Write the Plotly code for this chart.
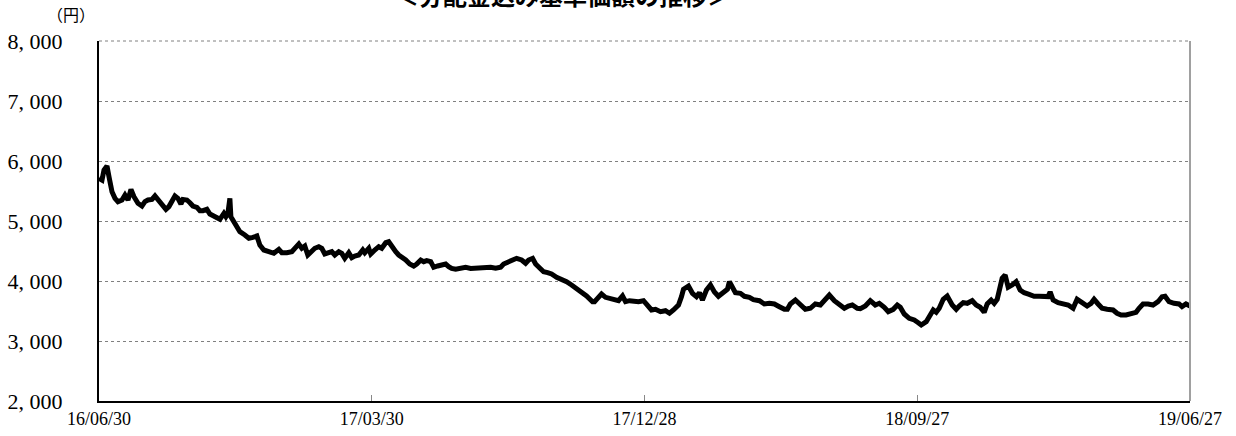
import pandas as pd
import plotly.graph_objects as go

# ---- data ----
start_date = "2016-06-30"
day_offsets = [
    0, 3, 5, 8, 10, 13, 16, 19, 23, 26, 29, 32, 35, 39, 43, 46, 49, 53, 56, 59,
    63, 67, 70, 73, 76, 79, 82, 84, 88, 91, 94, 98, 101, 104, 108, 111, 115, 118, 121, 125,
    127, 129, 131, 132, 135, 138, 141, 146, 150, 154, 158, 161, 165, 170, 175, 180, 183, 188, 193, 196,
    200, 203, 206, 209, 212, 216, 220, 223, 226, 230, 233, 236, 240, 243, 246, 250, 253, 256, 260, 264,
    266, 270, 272, 276, 280, 283, 287, 290, 293, 297, 300, 303, 307, 311, 315, 318, 322, 325, 328, 332,
    335, 339, 343, 347, 350, 353, 357, 362, 367, 372, 377, 382, 387, 392, 397, 402, 405, 410, 415, 418,
    423, 427, 430, 434, 437, 442, 445, 449, 453, 458, 463, 468, 473, 478, 483, 488, 494, 496, 499, 503,
    507, 511, 515, 520, 524, 527, 531, 535, 540, 545, 549, 553, 557, 562, 567, 571, 575, 580, 583, 585,
    590, 594, 598, 601, 604, 608, 612, 616, 620, 624, 629, 631, 634, 637, 642, 646, 651, 655, 661, 666,
    671, 676, 681, 686, 689, 692, 697, 702, 707, 712, 717, 722, 727, 731, 736, 741, 746, 750, 754, 759,
    762, 767, 772, 777, 781, 786, 790, 795, 799, 802, 806, 811, 816, 820, 823, 828, 832, 835, 838, 841,
    845, 849, 854, 858, 861, 865, 869, 874, 878, 882, 886, 889, 893, 896, 899, 902, 904, 907, 910, 914,
    918, 922, 926, 931, 936, 941, 946, 950, 952, 955, 960, 965, 970, 975, 979, 984, 989, 993, 996, 1000,
    1004, 1009, 1015, 1019, 1023, 1028, 1033, 1038, 1041, 1045, 1050, 1055, 1060, 1064, 1067, 1071, 1076, 1081, 1084, 1088,
    1092,
]
nav_values = [
    5712, 5683, 5850, 5917, 5738, 5488, 5378, 5322, 5350, 5433, 5350, 5528, 5405, 5295, 5250, 5322, 5350, 5360, 5417, 5350,
    5267, 5195, 5240, 5322, 5417, 5378, 5283, 5360, 5350, 5305, 5250, 5228, 5172, 5172, 5195, 5117, 5072, 5045, 5028, 5128,
    5072, 5128, 5378, 5072, 4988, 4895, 4822, 4767, 4712, 4728, 4750, 4600, 4517, 4490, 4462, 4528, 4472, 4470, 4488, 4545,
    4617, 4545, 4583, 4433, 4488, 4545, 4572, 4545, 4450, 4460, 4488, 4433, 4488, 4460, 4378, 4470, 4390, 4417, 4433, 4517,
    4470, 4545, 4450, 4517, 4572, 4545, 4638, 4655, 4572, 4488, 4433, 4405, 4350, 4283, 4250, 4283, 4350, 4322, 4340, 4322,
    4228, 4250, 4260, 4283, 4240, 4210, 4195, 4210, 4228, 4210, 4220, 4220, 4238, 4230, 4212, 4230, 4283, 4322, 4362, 4378,
    4350, 4295, 4350, 4378, 4283, 4195, 4155, 4140, 4117, 4062, 4028, 3988, 3933, 3878, 3822, 3750, 3655, 3655, 3710, 3783,
    3728, 3710, 3710, 3672, 3750, 3655, 3672, 3655, 3655, 3672, 3600, 3517, 3528, 3488, 3505, 3462, 3517, 3600, 3738, 3862,
    3917, 3795, 3738, 3805, 3683, 3850, 3933, 3817, 3745, 3805, 3862, 3988, 3905, 3805, 3795, 3745, 3728, 3690, 3672, 3617,
    3628, 3617, 3572, 3528, 3528, 3617, 3683, 3600, 3528, 3545, 3617, 3600, 3683, 3767, 3672, 3600, 3545, 3583, 3600, 3545,
    3540, 3583, 3672, 3600, 3628, 3562, 3490, 3528, 3600, 3562, 3450, 3378, 3350, 3305, 3267, 3322, 3433, 3517, 3478, 3545,
    3695, 3750, 3600, 3528, 3583, 3640, 3628, 3672, 3600, 3562, 3478, 3617, 3683, 3628, 3695, 3878, 4045, 4100, 3895, 3933,
    3988, 3850, 3805, 3778, 3745, 3745, 3738, 3740, 3817, 3683, 3640, 3617, 3600, 3545, 3695, 3640, 3583, 3628, 3695, 3617,
    3545, 3528, 3517, 3462, 3433, 3433, 3450, 3478, 3545, 3617, 3617, 3600, 3655, 3738, 3745, 3655, 3628, 3617, 3572, 3617,
    3583,
]
x_tick_dates = ["2016-06-30", "2017-03-30", "2017-12-28", "2018-09-27", "2019-06-27"]
x_tick_labels = ["16/06/30", "17/03/30", "17/12/28", "18/09/27", "19/06/27"]
y_tick_values = [2000, 3000, 4000, 5000, 6000, 7000, 8000]
y_tick_labels = ["2, 000", "3, 000", "4, 000", "5, 000", "6, 000", "7, 000", "8, 000"]
title_text = "＜分配金込み基準価額の推移＞"
unit_text = "（円）"

dates = pd.to_datetime(start_date) + pd.to_timedelta(day_offsets, unit="D")

SERIF = "Liberation Serif, Times New Roman, serif"
CJK = "Noto Sans CJK JP, sans-serif"

fig = go.Figure()
fig.add_trace(go.Scatter(
    x=dates, y=nav_values, mode="lines",
    line=dict(color="black", width=5, shape="linear"),
    hoverinfo="x+y", showlegend=False,
))

fig.update_layout(
    width=1236, height=436,
    margin=dict(l=99, r=46, t=41, b=35, autoexpand=False),
    paper_bgcolor="white", plot_bgcolor="white",
    xaxis=dict(
        type="date", automargin=False,
        range=[x_tick_dates[0], x_tick_dates[-1]],
        tickmode="array", tickvals=x_tick_dates, ticktext=x_tick_labels,
        ticks="inside", ticklen=6, tickwidth=1, tickcolor="#888888",
        showline=True, linecolor="black", linewidth=2,
        showgrid=False, zeroline=False,
        tickfont=dict(family=SERIF, size=18, color="black"),
    ),
    yaxis=dict(
        automargin=False,
        range=[2000, 8000],
        tickmode="array", tickvals=y_tick_values, ticktext=y_tick_labels,
        ticks="", showline=True, linecolor="black", linewidth=2,
        showgrid=True, gridcolor="#808080", gridwidth=1, griddash="dot",
        zeroline=False,
        ticklabelstandoff=30,
        tickfont=dict(family=SERIF, size=22, color="black"),
    ),
    shapes=[
        dict(type="line", xref="paper", yref="paper", x0=1, x1=1, y0=0, y1=1,
             line=dict(color="#a0a0a0", width=2)),
        dict(type="line", xref="paper", yref="paper", x0=0, x1=1, y0=1, y1=1,
             line=dict(color="#808080", width=1, dash="dot")),
    ],
    annotations=[
        dict(text="<b>" + title_text + "</b>", xref="paper", yref="paper", x=(563 - 99) / 1091,
             y=1 + 27 / 360, xanchor="center", yanchor="bottom", showarrow=False,
             font=dict(family=CJK, size=24, color="black")),
        dict(text=unit_text, xref="paper", yref="paper", x=-0.002, y=1 + 13 / 360,
             xanchor="right", yanchor="bottom", showarrow=False,
             font=dict(family=CJK, size=16, color="black")),
    ],
)

fig.write_html("out.html", config={"displayModeBar": False},
               post_script="document.body.style.margin='0';")
